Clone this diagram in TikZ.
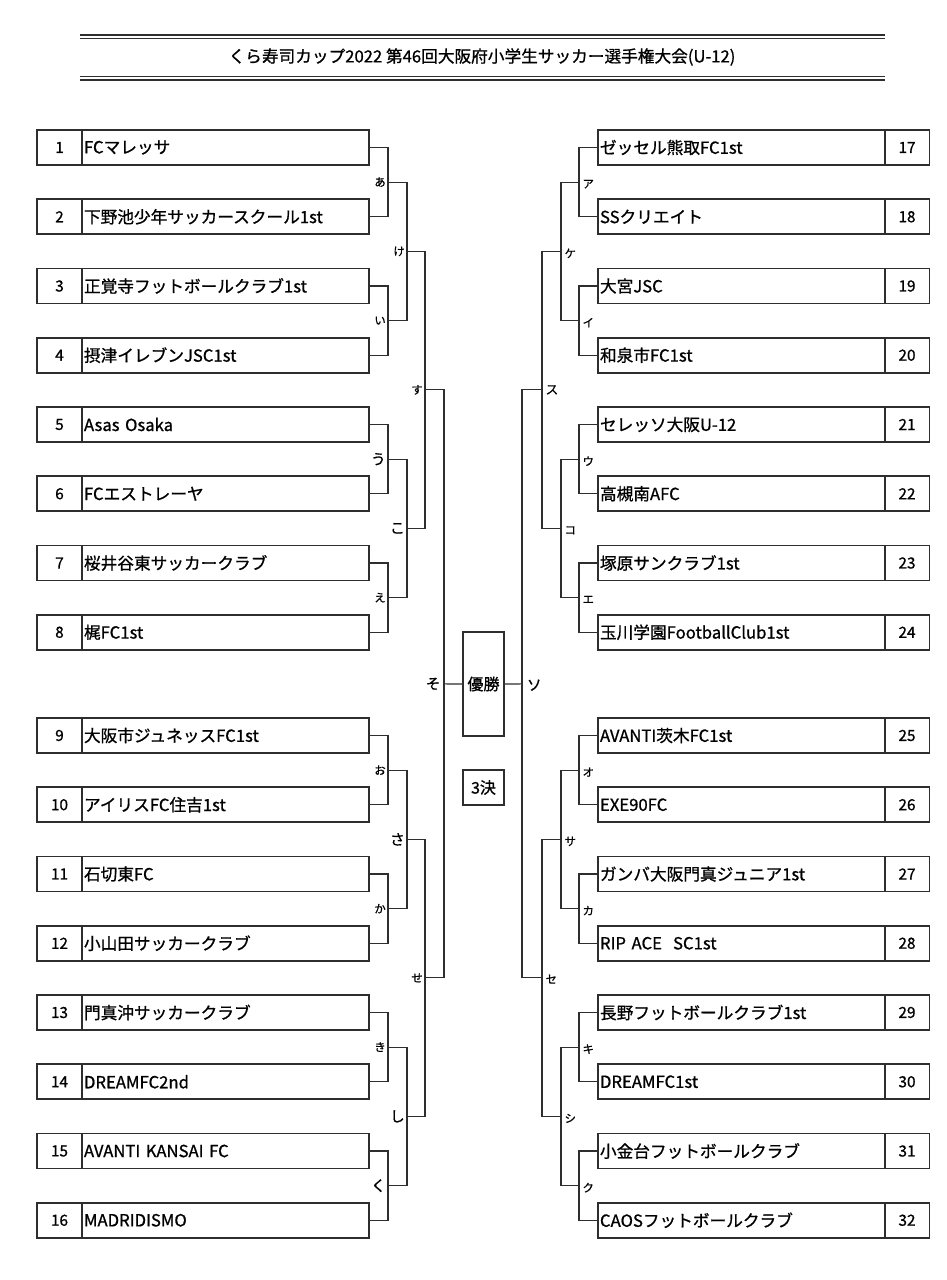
\documentclass[tikz,border=0pt]{standalone}
\usepackage{fontspec}
\setmainfont{Noto Sans CJK JP}[FakeBold=0.9]
\definecolor{lc}{gray}{0.18}
\begin{document}
\begin{tikzpicture}[x=0.75pt,y=-0.75pt,
  box/.style={draw=lc,line width=1.3pt,minimum height=26.25pt,inner sep=0pt},
  numcell/.style={box,minimum width=33.75pt,font=\fontsize{11.5}{13}\selectfont},
  namecell/.style={box,text width=212.25pt,inner xsep=1.5pt,align=left,font=\fontsize{12.5}{14}\selectfont},
  conn/.style={draw=lc,line width=0.9pt},
  lbs/.style={font=\fontsize{8.5}{10}\selectfont,inner sep=0.5pt},
  lbb/.style={font=\fontsize{11}{12}\selectfont,inner sep=0.5pt},
  rule/.style={draw=lc,line width=1pt}]
\fill[white] (0,0) rectangle (946,1280);
\useasboundingbox (0,0) rectangle (946,1280);
% title
\draw[rule] (80,35) -- (885,35);
\draw[rule] (80,38.5) -- (885,38.5);
\draw[rule] (80,76.5) -- (885,76.5);
\draw[rule] (80,80) -- (885,80);
\node[font=\fontsize{12.5}{14}\selectfont] (title) at (482,57) {くら寿司カップ2022 第46回大阪府小学生サッカー選手権大会(U-12)};
% left teams
\foreach \i/\t in {1/FCマレッサ,2/下野池少年サッカースクール1st,3/正覚寺フットボールクラブ1st,4/摂津イレブンJSC1st,5/Asas Osaka,6/FCエストレーヤ,7/桜井谷東サッカークラブ,8/梶FC1st,9/大阪市ジュネッスFC1st,10/アイリスFC住吉1st,11/石切東FC,12/小山田サッカークラブ,13/門真沖サッカークラブ,14/DREAMFC2nd,15/AVANTI KANSAI FC,16/MADRIDISMO}{
  \pgfmathsetmacro\yy{(\i<9)*(147.5+(\i-1)*69.25)+(\i>8)*(735.5+(\i-9)*69.25)}
  \node[numcell] (ln\i) at (59.5,\yy) {\i};
  \node[namecell] (lt\i) at (225.5,\yy) {\t};
}
% right teams
\foreach \i/\t in {17/ゼッセル熊取FC1st,18/SSクリエイト,19/大宮JSC,20/和泉市FC1st,21/セレッソ大阪U-12,22/高槻南AFC,23/塚原サンクラブ1st,24/玉川学園FootballClub1st,25/AVANTI茨木FC1st,26/EXE90FC,27/ガンバ大阪門真ジュニア1st,28/RIP ACE\ \ SC1st,29/長野フットボールクラブ1st,30/DREAMFC1st,31/小金台フットボールクラブ,32/CAOSフットボールクラブ}{
  \pgfmathsetmacro\yy{(\i<25)*(147.5+(\i-17)*69.25)+(\i>24)*(735.5+(\i-25)*69.25)}
  \node[namecell] (rt\i) at (741.5,\yy) {\t};
  \node[numcell] (rn\i) at (907,\yy) {\i};
}
% centre boxes
\node[box,minimum width=30.75pt,minimum height=78pt,font=\fontsize{12}{14}\selectfont] (win) at (483.5,684) {優勝};
\node[box,minimum width=30.75pt,font=\fontsize{12}{14}\selectfont] (third) at (483.5,787.5) {3決};
% junction coordinates
\foreach \k/\y in {1/182.125,2/320.625,3/459.125,4/597.625,5/770.125,6/908.625,7/1047.125,8/1185.625}{
  \coordinate (la\k) at (388,\y);
  \coordinate (ra\k) at (579,\y);
}
\foreach \k/\y in {1/251.375,2/528.375,3/839.375,4/1116.375}{
  \coordinate (lb\k) at (407,\y);
  \coordinate (rb\k) at (561,\y);
}
\foreach \k/\y in {1/389.875,2/977.875}{
  \coordinate (lc\k) at (425,\y);
  \coordinate (rc\k) at (542,\y);
}
\coordinate (ld) at (444,683.875);
\coordinate (rd) at (522,683.875);
% left connectors
\foreach \k in {1,...,8}{
  \pgfmathtruncatemacro\a{2*\k-1}
  \pgfmathtruncatemacro\b{2*\k}
  \draw[conn] (lt\a.east) -| (la\k) |- (lt\b.east);
}
\foreach \k in {1,...,4}{
  \pgfmathtruncatemacro\a{2*\k-1}
  \pgfmathtruncatemacro\b{2*\k}
  \draw[conn] (la\a) -| (lb\k) |- (la\b);
}
\draw[conn] (lb1) -| (lc1) |- (lb2);
\draw[conn] (lb3) -| (lc2) |- (lb4);
\draw[conn] (lc1) -| (ld) |- (lc2);
\draw[conn] (ld) -- (win.west);
% right connectors
\foreach \k in {1,...,8}{
  \pgfmathtruncatemacro\a{2*\k-1+16}
  \pgfmathtruncatemacro\b{2*\k+16}
  \draw[conn] (rt\a.west) -| (ra\k) |- (rt\b.west);
}
\foreach \k in {1,...,4}{
  \pgfmathtruncatemacro\a{2*\k-1}
  \pgfmathtruncatemacro\b{2*\k}
  \draw[conn] (ra\a) -| (rb\k) |- (ra\b);
}
\draw[conn] (rb1) -| (rc1) |- (rb2);
\draw[conn] (rb3) -| (rc2) |- (rb4);
\draw[conn] (rc1) -| (rd) |- (rc2);
\draw[conn] (rd) -- (win.east);
% left labels
\foreach \k/\s/\t in {1/lbs/あ,2/lbs/い,3/lbb/う,4/lbs/え,5/lbs/お,6/lbs/か,7/lbs/き,8/lbb/く}{
  \node[\s,anchor=east,xshift=-1pt] (Lla\k) at (la\k) {\t};
}
\foreach \k/\s/\t in {1/lbs/け,2/lbb/こ,3/lbb/さ,4/lbb/し}{
  \node[\s,anchor=east,xshift=-1pt] (Llb\k) at (lb\k) {\t};
}
\node[lbs,anchor=east,xshift=-1pt] (Llc1) at (lc1) {す};
\node[lbs,anchor=east,xshift=-1pt] (Llc2) at (lc2) {せ};
\node[lbb,anchor=east,xshift=-2pt] (Lld) at (ld) {そ};
% right labels
\foreach \k/\t in {1/ア,2/イ,3/ウ,4/エ,5/オ,6/カ,7/キ,8/ク}{
  \node[lbs,anchor=west,xshift=2pt,yshift=-1.5pt] (Lra\k) at (ra\k) {\t};
}
\foreach \k/\t in {1/ケ,2/コ,3/サ,4/シ}{
  \node[lbs,anchor=west,xshift=2pt,yshift=-1.5pt] (Lrb\k) at (rb\k) {\t};
}
\node[font=\fontsize{9.5}{11}\selectfont,inner sep=0.5pt,anchor=west,xshift=2pt] (Lrc1) at (rc1) {ス};
\node[lbs,anchor=west,xshift=2pt,yshift=-1pt] (Lrc2) at (rc2) {セ};
\node[lbb,anchor=west,xshift=3pt,yshift=-1pt] (Lrd) at (rd) {ソ};
\end{tikzpicture}
\end{document}
